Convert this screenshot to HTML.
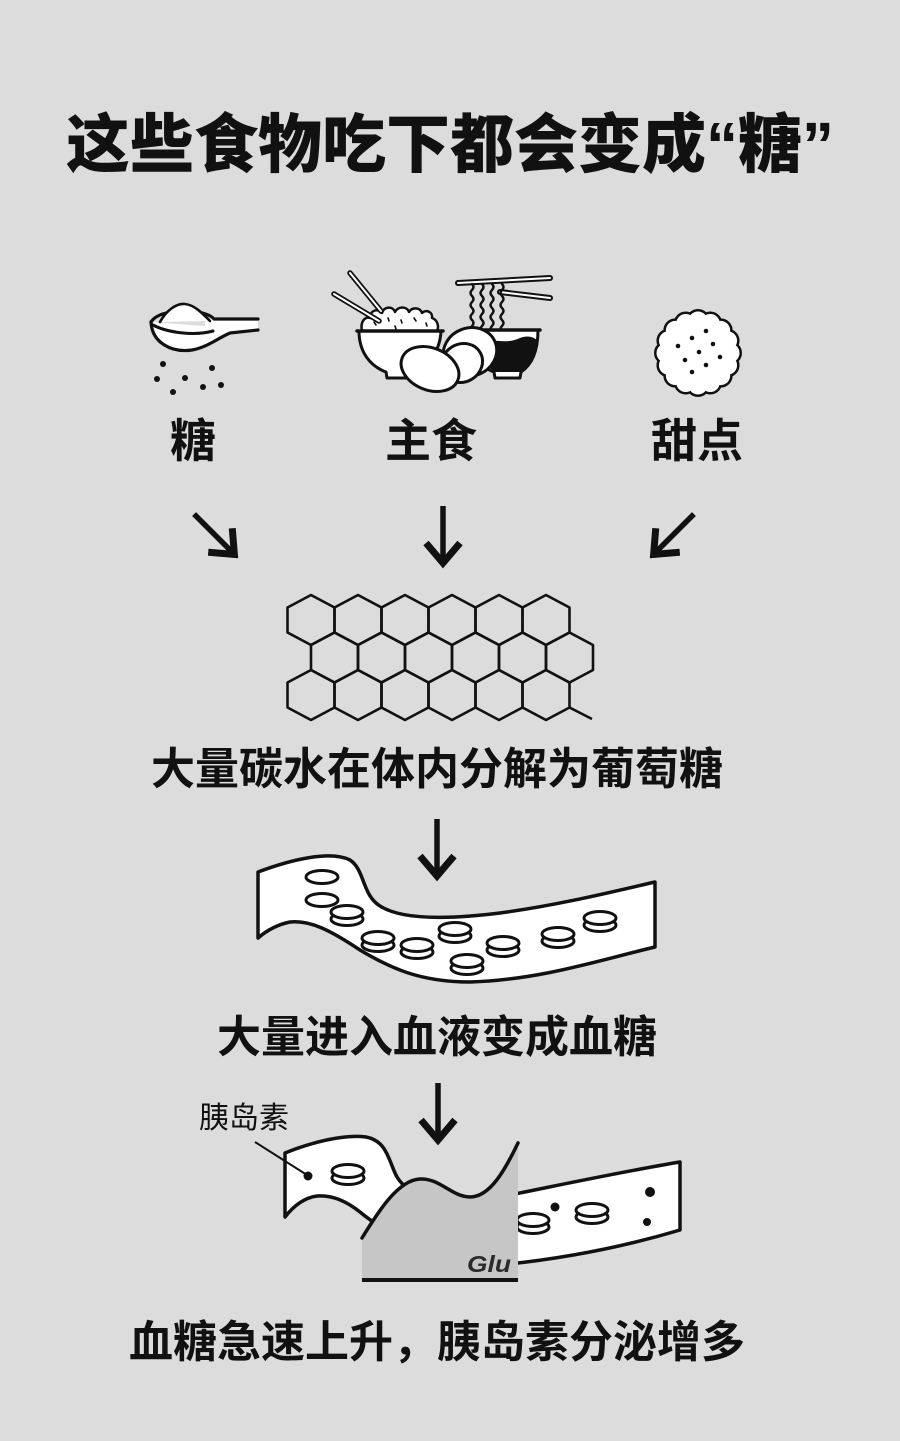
<!DOCTYPE html>
<html><head><meta charset="utf-8"><style>
html,body{margin:0;padding:0;background:#dcdcdc;}
svg{display:block;}
text{font-family:"Liberation Sans","Noto Sans CJK SC",sans-serif;fill:#111;}
</style></head><body>
<svg width="900" height="1441" viewBox="0 0 900 1441" xmlns="http://www.w3.org/2000/svg">
<defs>
<polygon id="hx" points="0,-25 23.5,-12.5 23.5,12.5 0,25 -23.5,12.5 -23.5,-12.5" fill="none" stroke="#111" stroke-width="2.6" stroke-linejoin="round"/>
<g id="coin"><ellipse cx="0" cy="7" rx="16" ry="6.5" fill="#fff" stroke="#111" stroke-width="3"/><ellipse cx="0" cy="0" rx="16" ry="6.5" fill="#fff" stroke="#111" stroke-width="3"/></g>
<g id="arr"><line x1="0" y1="-31" x2="0" y2="24" stroke="#111" stroke-width="5.5"/><polyline points="-17,6 0,26 17,6" fill="none" stroke="#111" stroke-width="7" stroke-miterlimit="10"/></g>
<g id="cookieC">
<circle cx="698" cy="353" r="32"/>
<circle cx="730" cy="353" r="9.5"/><circle cx="727.56" cy="365.25" r="9.5"/><circle cx="720.63" cy="375.63" r="9.5"/><circle cx="710.25" cy="382.56" r="9.5"/>
<circle cx="698" cy="385" r="9.5"/><circle cx="685.75" cy="382.56" r="9.5"/><circle cx="675.37" cy="375.63" r="9.5"/><circle cx="668.44" cy="365.25" r="9.5"/>
<circle cx="666" cy="353" r="9.5"/><circle cx="668.44" cy="340.75" r="9.5"/><circle cx="675.37" cy="330.37" r="9.5"/><circle cx="685.75" cy="323.44" r="9.5"/>
<circle cx="698" cy="321" r="9.5"/><circle cx="710.25" cy="323.44" r="9.5"/><circle cx="720.63" cy="330.37" r="9.5"/><circle cx="727.56" cy="340.75" r="9.5"/>
</g>
</defs>
<rect width="900" height="1441" fill="#dcdcdc"/>

<!-- Title -->
<text x="66" y="167" font-size="64" font-weight="900">这些食物吃下都会变成“糖”</text>

<!-- Spoon -->
<g stroke="#111" stroke-linecap="round" stroke-linejoin="round">
<rect x="205" y="319" width="53" height="11" fill="#fff" stroke="none"/>
<path d="M151,322 C152,343 172,353 192,350 C208,347 218,338 230,333 L258,330" fill="#fff" stroke-width="3.2"/>
<path d="M151,322 C156,314 170,311 185,311 C198,311 210,314 214,319 L258,319" fill="none" stroke-width="3.2"/>
<path d="M160,322 C166,311 176,303 185,304 C195,305 203,314 210,321" fill="#fff" stroke-width="2.6"/>
<path d="M153,325 C168,333 195,336 213,331" fill="none" stroke-width="3"/>
</g>
<g fill="#111">
<circle cx="163" cy="364" r="3"/><circle cx="212" cy="368" r="3"/><circle cx="157" cy="379" r="3"/><circle cx="185" cy="378" r="3"/><circle cx="203" cy="387" r="3"/><circle cx="221" cy="385" r="3"/><circle cx="173" cy="392" r="3"/>
</g>

<!-- Noodle bowl -->
<g stroke="#111" stroke-linecap="round" stroke-linejoin="round" fill="none">
<line x1="458" y1="283" x2="550" y2="278" stroke-width="6"/>
<line x1="458" y1="283" x2="550" y2="278" stroke="#fff" stroke-width="2"/>
<line x1="500" y1="292" x2="550" y2="298" stroke-width="6"/>
<line x1="500" y1="292" x2="550" y2="298" stroke="#fff" stroke-width="2"/>
<path d="M472,284 q3,3 0,6 t0,6 t0,6 t0,6 t0,6 t0,6 t0,6 t0,6" stroke-width="2.4"/>
<path d="M482,284 q3,3 0,6 t0,6 t0,6 t0,6 t0,6 t0,6 t0,6 t0,6" stroke-width="2.4"/>
<path d="M492,284 q3,3 0,6 t0,6 t0,6 t0,6 t0,6 t0,6 t0,6 t0,6" stroke-width="2.4"/>
<path d="M502,284 q3,3 0,6 t0,6 t0,6 t0,6 t0,6 t0,6 t0,6 t0,6" stroke-width="2.4"/>
<path d="M466,330 C467,352 478,366 494,372 L495,378 L520,378 L521,372 C533,364 538,350 538,330 Z" fill="#fff" stroke-width="3"/>
<path d="M478,342 C495,338 505,345 520,338 C528,335 533,337 537,340 C536,352 530,364 520,372 L495,372 C485,365 478,355 478,345 Z" fill="#111" stroke="none"/>
<line x1="464" y1="330" x2="540" y2="330" stroke-width="3.5"/>
</g>

<!-- Rice bowl -->
<g stroke="#111" stroke-linecap="round" stroke-linejoin="round">
<path d="M362,331 C360,322 365,316 370,318 C370,310 378,308 382,313 C384,306 393,306 395,312 C398,306 407,306 409,312 C412,307 420,307 422,313 C426,309 433,312 432,318 C438,320 439,327 437,331 Z" fill="#fff" stroke-width="2.5"/>
<g stroke-width="1.6" fill="none">
<line x1="374" y1="322" x2="376" y2="325"/><line x1="388" y1="318" x2="389" y2="321"/><line x1="401" y1="320" x2="402" y2="323"/><line x1="414" y1="318" x2="416" y2="321"/><line x1="426" y1="323" x2="427" y2="326"/><line x1="395" y1="326" x2="396" y2="329"/>
</g>
<path d="M359,331 C359,352 370,366 386,372 L387,378 L412,378 L413,372 C428,366 440,352 441,331 Z" fill="#fff" stroke-width="3"/>
<line x1="357" y1="331" x2="443" y2="331" stroke-width="3.5"/>
<line x1="350" y1="273" x2="381" y2="311" stroke-width="5.5"/>
<line x1="350" y1="273" x2="381" y2="311" stroke="#fff" stroke-width="2"/>
<line x1="334" y1="294" x2="379" y2="321" stroke-width="5.5"/>
<line x1="334" y1="294" x2="379" y2="321" stroke="#fff" stroke-width="2"/>
</g>

<!-- Buns -->
<g stroke="#111" stroke-width="3" fill="#fff">
<ellipse cx="0" cy="0" rx="27" ry="24" transform="translate(470,352) rotate(-20)"/>
<ellipse cx="0" cy="0" rx="21" ry="19" transform="translate(462,363) rotate(-30)"/>
<ellipse cx="0" cy="0" rx="30" ry="21" transform="translate(430,369) rotate(22)"/>
</g>

<!-- Cookie -->
<use href="#cookieC" fill="#111" stroke="#111" stroke-width="5"/>
<use href="#cookieC" fill="#fff" stroke="none"/>
<g fill="#111">
<circle cx="706" cy="331" r="2.3"/><circle cx="692" cy="338" r="2.3"/><circle cx="678" cy="346" r="2.3"/><circle cx="713" cy="344" r="2.3"/><circle cx="699" cy="352" r="2.3"/><circle cx="720" cy="357" r="2.3"/><circle cx="685" cy="360" r="2.3"/><circle cx="706" cy="365" r="2.3"/><circle cx="692" cy="372" r="2.3"/>
</g>

<!-- Labels -->
<text x="170" y="457" font-size="46" font-weight="bold">糖</text>
<text x="385" y="457" font-size="46" font-weight="bold">主食</text>
<text x="651" y="457" font-size="46" font-weight="bold">甜点</text>

<!-- Arrows -->
<use href="#arr" transform="translate(216,536) rotate(-45)"/>
<use href="#arr" transform="translate(443,537)"/>
<use href="#arr" transform="translate(672,536) rotate(45)"/>

<!-- Honeycomb -->
<g>
<use href="#hx" x="311" y="620"/><use href="#hx" x="358" y="620"/><use href="#hx" x="405" y="620"/><use href="#hx" x="452" y="620"/><use href="#hx" x="499" y="620"/><use href="#hx" x="546" y="620"/>
<use href="#hx" x="334.5" y="657.5"/><use href="#hx" x="381.5" y="657.5"/><use href="#hx" x="428.5" y="657.5"/><use href="#hx" x="475.5" y="657.5"/><use href="#hx" x="522.5" y="657.5"/><use href="#hx" x="569.5" y="657.5"/>
<use href="#hx" x="311" y="695"/><use href="#hx" x="358" y="695"/><use href="#hx" x="405" y="695"/><use href="#hx" x="452" y="695"/><use href="#hx" x="499" y="695"/><use href="#hx" x="546" y="695"/>
<line x1="569.5" y1="707.5" x2="592" y2="719" stroke="#111" stroke-width="2.6"/>
</g>

<text x="151" y="784" font-size="44" font-weight="bold">大量碳水在体内分解为葡萄糖</text>

<use href="#arr" transform="translate(437,850)"/>

<!-- Vessel 1 -->
<path d="M258,872 C290,860 330,850 350,860 C365,870 362,895 380,906 C405,922 460,918 500,913 C560,905 620,890 655,882 L655,947 C600,960 540,980 470,982 C420,982 390,968 360,950 C330,930 310,920 290,922 C275,925 265,932 258,938 Z" fill="#fff" stroke="#111" stroke-width="3.5" stroke-linejoin="round"/>
<ellipse cx="322" cy="877" rx="16" ry="6.5" fill="#fff" stroke="#111" stroke-width="3"/>
<ellipse cx="322" cy="900" rx="16" ry="6.5" fill="#fff" stroke="#111" stroke-width="3"/>
<use href="#coin" x="347" y="912"/>
<use href="#coin" x="378" y="938"/>
<use href="#coin" x="417" y="945"/>
<use href="#coin" x="455" y="929"/>
<use href="#coin" x="467" y="961"/>
<use href="#coin" x="503" y="943"/>
<use href="#coin" x="558" y="934"/>
<use href="#coin" x="600" y="918"/>

<text x="217" y="1052" font-size="44" font-weight="bold">大量进入血液变成血糖</text>

<use href="#arr" transform="translate(438,1114)"/>

<!-- Bottom diagram -->
<text x="199" y="1128" font-size="30">胰岛素</text>

<path d="M285,1153 C312,1142 345,1134 366,1137 C388,1141 389,1163 397,1177 C403,1187 412,1192 428,1198 L400,1240 C385,1230 372,1222 360,1212 C345,1200 330,1195 317,1196 C302,1198 292,1208 285,1217 Z" fill="#fff" stroke="#111" stroke-width="3.5" stroke-linejoin="round"/>
<line x1="255" y1="1142" x2="307" y2="1175" stroke="#111" stroke-width="2"/>
<circle cx="308" cy="1176" r="4.5" fill="#111"/>
<use href="#coin" x="348" y="1171"/>

<path d="M500,1197 C560,1185 620,1172 680,1162 L680,1230 C630,1245 570,1258 500,1265 Z" fill="#fff" stroke="#111" stroke-width="3.5" stroke-linejoin="round"/>
<use href="#coin" x="533" y="1220"/>
<circle cx="555" cy="1207" r="4.5" fill="#111"/>
<use href="#coin" x="592" y="1210"/>
<circle cx="650" cy="1192" r="5" fill="#111"/>
<circle cx="647" cy="1222" r="4" fill="#111"/>

<path d="M362,1238 C378,1212 398,1180 420,1179 C440,1178 452,1197 470,1197 C490,1197 505,1170 518,1143 L518,1280 L362,1280 Z" fill="#c6c6c6"/>
<path d="M362,1238 C378,1212 398,1180 420,1179 C440,1178 452,1197 470,1197 C490,1197 505,1170 518,1143" fill="none" stroke="#111" stroke-width="3.5" stroke-linecap="round"/>
<line x1="362" y1="1280" x2="518" y2="1280" stroke="#111" stroke-width="4"/>
<text x="467" y="1272" font-size="23" font-weight="bold" font-style="italic" style="fill:#2a2a2a" textLength="44" lengthAdjust="spacingAndGlyphs">Glu</text>

<text x="129" y="1357" font-size="44" font-weight="bold">血糖急速上升，胰岛素分泌增多</text>
</svg>
</body></html>
